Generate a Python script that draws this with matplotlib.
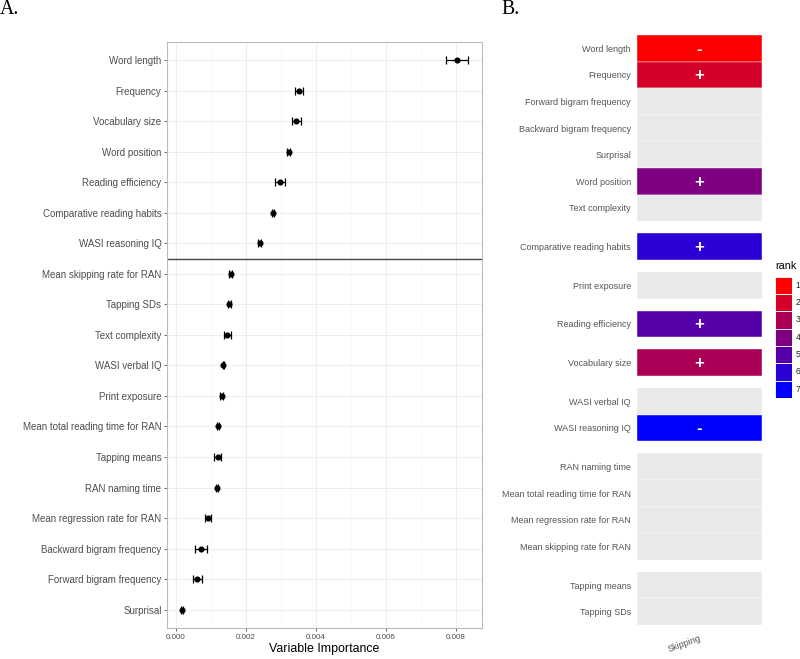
import matplotlib
matplotlib.use('Agg')
import matplotlib.pyplot as plt
import numpy as np
from matplotlib.patches import Rectangle
from matplotlib.colors import LinearSegmentedColormap

# ---------------- data ----------------
features_a = ["Word length", "Frequency", "Vocabulary size", "Word position",
              "Reading efficiency", "Comparative reading habits", "WASI reasoning IQ",
              "Mean skipping rate for RAN", "Tapping SDs", "Text complexity",
              "WASI verbal IQ", "Print exposure", "Mean total reading time for RAN",
              "Tapping means", "RAN naming time", "Mean regression rate for RAN",
              "Backward bigram frequency", "Forward bigram frequency", "Surprisal"]
importance = [0.00802, 0.00351, 0.00344, 0.00322, 0.00298, 0.00277, 0.00239,
              0.00156, 0.00152, 0.00146, 0.00135, 0.00131, 0.00119,
              0.00119, 0.00117, 0.00091, 0.00071, 0.00061, 0.00018]
imp_err = [0.00031, 0.00011, 0.00013, 0.00004, 0.00014, 0.00002, 0.00004,
           0.00004, 0.00004, 0.00010, 0.00002, 0.00004, 0.00003,
           0.00011, 0.00002, 0.00009, 0.00017, 0.00012, 0.00003]
split_after = 7  # number of rows above the separating line

features_b = ["Word length", "Frequency", "Forward bigram frequency",
              "Backward bigram frequency", "Surprisal", "Word position", "Text complexity",
              "Comparative reading habits", "Print exposure", "Reading efficiency",
              "Vocabulary size", "WASI verbal IQ", "WASI reasoning IQ",
              "RAN naming time", "Mean total reading time for RAN",
              "Mean regression rate for RAN", "Mean skipping rate for RAN",
              "Tapping means", "Tapping SDs"]
group_b = [0, 0, 0, 0, 0, 0, 0, 1, 2, 3, 4, 5, 5, 6, 6, 6, 6, 7, 7]
rank_b = [1, 2, None, None, None, 4, None, 6, None, 5, 3, None, 7,
          None, None, None, None, None, None]
sign_b = ["-", "+", "", "", "", "+", "", "+", "", "+", "+", "", "-",
          "", "", "", "", "", ""]
ranks = [1, 2, 3, 4, 5, 6, 7]
column_b = "Skipping"

# ---------------- layout helpers ----------------
W, H = 800, 659
def rect(x0, x1, y0, y1):
    return [x0 / W, 1 - y1 / H, (x1 - x0) / W, (y1 - y0) / H]

fig = plt.figure(figsize=(W / 100, H / 100), dpi=100)
fig.patch.set_facecolor('white')
sans = ['Liberation Sans', 'DejaVu Sans']
serif = ['Liberation Serif', 'DejaVu Serif']

# ---------------- panel A ----------------
ax = fig.add_axes(rect(167, 481.7, 41.7, 628))
ypos = np.arange(len(features_a))
ax.set_xlim(-0.000257, 0.008734)
ax.set_ylim(len(features_a) - 1 + 0.6, -0.6)
ax.set_xticks([0.0, 0.002, 0.004, 0.006, 0.008])
ax.set_xticks([0.001, 0.003, 0.005, 0.007], minor=True)
ax.set_xticklabels(["%.3f" % v for v in [0.0, 0.002, 0.004, 0.006, 0.008]],
                   fontsize=5.8, color='#4D4D4D', family=sans)
ax.set_yticks(ypos)
ax.set_yticklabels(features_a, fontsize=7.0, color='#4D4D4D', family=sans)
ax.grid(True, which='major', color='#EBEBEB', lw=0.6, zorder=0)
ax.grid(True, which='minor', axis='x', color='#F5F5F5', lw=0.4, zorder=0)
ax.set_axisbelow(True)
ax.tick_params(axis='both', which='major', length=2.5, width=0.6, color='#555555', pad=1.5)
ax.tick_params(axis='x', which='minor', length=0)
for s in ax.spines.values():
    s.set_color('#BBBBBB')
    s.set_linewidth(0.8)
ax.axhline(split_after - 0.5, color='#444444', lw=1.0, zorder=2)
ax.errorbar(importance, ypos, xerr=imp_err, fmt='o', color='black', ms=3.4,
            capsize=3.2, elinewidth=0.9, capthick=0.9, zorder=3)
ax.set_xlabel("Variable Importance", fontsize=8.9, color='black', family=sans, labelpad=1.5)

# ---------------- panel B ----------------
gap = 0.455
ycent = []
cur = 0.0
prev_g = group_b[0]
for g in group_b:
    if g != prev_g:
        cur += gap
        prev_g = g
    ycent.append(cur + 0.5)
    cur += 1.0
total_h = cur

cmap = LinearSegmentedColormap.from_list('rank', ['#FF0000', '#0000FF'])
def rank_color(r):
    return cmap((r - min(ranks)) / (max(ranks) - min(ranks)))

axb = fig.add_axes(rect(636.7, 761.7, 35, 625))
axb.set_xlim(0, 1)
axb.set_ylim(total_h, 0)
for yc, r, sg in zip(ycent, rank_b, sign_b):
    fc = '#E9E9E9' if r is None else rank_color(r)
    axb.add_patch(Rectangle((0, yc - 0.5), 1, 1, facecolor=fc, edgecolor='white',
                            lw=0.3, zorder=1))
    if sg:
        axb.text(0.5, yc + 0.03, sg, ha='center', va='center', color='white',
                 fontsize=12, fontweight='bold', family=sans, zorder=2)
for s in axb.spines.values():
    s.set_visible(False)
axb.set_yticks(ycent)
axb.set_yticklabels(features_b, fontsize=6.45, color='#555555', family=sans)
axb.set_xticks([0.5])
axb.set_xticklabels([column_b], fontsize=6.5, color='#555555', family=sans,
                    rotation=20, ha='right', va='top', rotation_mode='anchor')
axb.tick_params(axis='y', length=0, pad=4.2)
axb.tick_params(axis='x', length=0, pad=6)

# ---------------- legend ----------------
axl = fig.add_axes(rect(775, 792.3, 276.7, 276.7 + 17.3 * len(ranks)))
axl.set_xlim(0, 1)
axl.set_ylim(len(ranks), 0)
axl.axis('off')
for i, r in enumerate(ranks):
    axl.add_patch(Rectangle((0, i), 1, 1, facecolor=rank_color(r), edgecolor='white', lw=0.6))
    axl.text(1.2, i + 0.5, str(r), ha='left', va='center', fontsize=6.2,
             color='#222222', family=sans)
axl.text(0.0, -0.35, "rank", ha='left', va='bottom', fontsize=7.8, color='black', family=sans)

# ---------------- panel labels ----------------
fig.text(0 / W, 1 - 9 / H, "A.", ha='left', va='center', fontsize=14.3, family=serif)
fig.text(501.7 / W, 1 - 9 / H, "B.", ha='left', va='center', fontsize=14.3, family=serif)

fig.savefig('out.png', dpi=100, facecolor='white')
